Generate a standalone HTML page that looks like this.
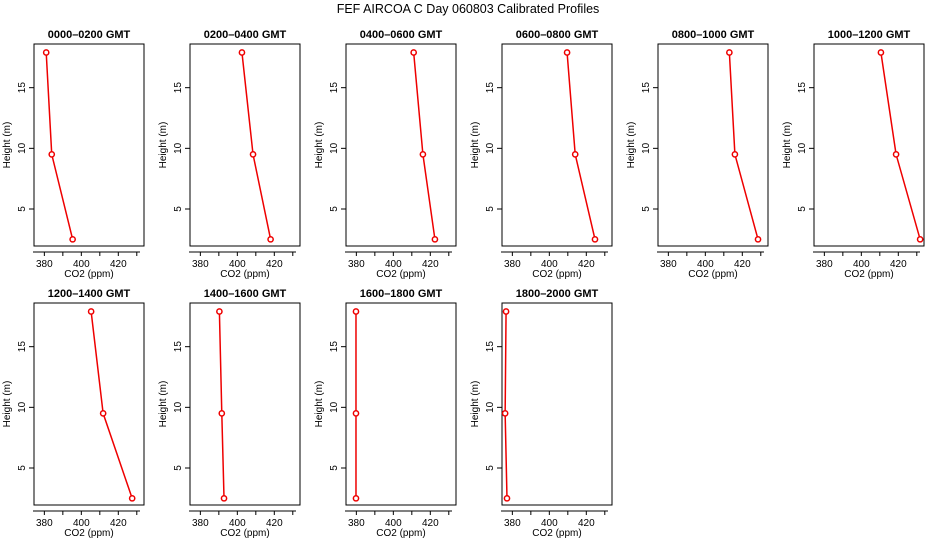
<!DOCTYPE html>
<html><head><meta charset="utf-8"><style>
body{margin:0;background:#fff}
svg text{font-family:"Liberation Sans",sans-serif;fill:#000}
</style></head><body>
<svg id="c" width="936" height="540" xmlns="http://www.w3.org/2000/svg">
<text x="468" y="13" text-anchor="middle" font-size="12.5">FEF AIRCOA C  Day 060803  Calibrated Profiles</text>
</svg>
<script>
const panelTitles=["0000–0200 GMT","0200–0400 GMT","0400–0600 GMT","0600–0800 GMT","0800–1000 GMT","1000–1200 GMT","1200–1400 GMT","1400–1600 GMT","1600–1800 GMT","1800–2000 GMT"];
const heights=[17.9,9.5,2.5];
const co2Values=[
[381,384,395.3],[402.5,408.5,418],[411,416,422.5],[409.6,414,424.7],[413,416,428.5],
[410.6,418.8,431.8],[405.3,411.8,427.5],[390.3,391.6,392.8],[379.8,379.8,379.8],[376.6,376.1,377.1]];
const xTicks=[380,390,400,410,420,430];
const xTickLabels=["380","","400","","420",""];
const yTicks=[5,10,15];
const svg=document.getElementById('c');
const NS='http://www.w3.org/2000/svg';
function mk(t,a,p){const e=document.createElementNS(NS,t);for(const k in a)e.setAttribute(k,a[k]);(p||svg).appendChild(e);return e;}
const XMIN=374.4,XMAX=433.9,YMIN=1.95,YMAX=18.6;
panelTitles.forEach((title,i)=>{
  const col=i%6,row=Math.floor(i/6);
  const L=34+col*156,R=L+110,T=44+row*259,B=T+202;
  const sx=v=>L+(v-XMIN)/(XMAX-XMIN)*(R-L);
  const sy=v=>B-(v-YMIN)/(YMAX-YMIN)*(B-T);
  const g=mk('g',{});
  
  
  const box=mk('rect',{x:L,y:T,width:R-L,height:B-T,fill:'none',stroke:'#000','stroke-width':1},g);
  
  
  const tt=mk('text',{x:(L+R)/2,y:T-6,'text-anchor':'middle','font-size':11,'font-weight':'bold'},g);
  tt.textContent=title;
  
  
  const ax=mk('line',{x1:L-1,x2:R-4,y1:B+6,y2:B+6,stroke:'#000'},g);
  
  
  xTicks.forEach((v,k)=>{
    mk('line',{x1:sx(v),x2:sx(v),y1:B+6,y2:B+10,stroke:'#000'},g);
    if(xTickLabels[k]){const t=mk('text',{x:sx(v),y:B+21,'text-anchor':'middle','font-size':10},g);t.textContent=xTickLabels[k];
    
    }
  });
  const xl=mk('text',{x:(L+R)/2,y:B+31,'text-anchor':'middle','font-size':10},g);
  xl.textContent='CO2 (ppm)';
  
  
  yTicks.forEach(v=>{
    mk('line',{x1:L-5,x2:L,y1:sy(v),y2:sy(v),stroke:'#000'},g);
    const t=mk('text',{x:L-9,y:sy(v),'text-anchor':'middle','font-size':10,transform:`rotate(-90 ${L-9} ${sy(v)})`},g);
    t.textContent=String(v);
    
    
  });
  const yl=mk('text',{x:L-24,y:(T+B)/2,'text-anchor':'middle','font-size':10,transform:`rotate(-90 ${L-24} ${(T+B)/2})`},g);
  yl.textContent='Height (m)';
  
  
  const vals=co2Values[i];
  const pts=vals.map((v,k)=>sx(v)+','+sy(heights[k])).join(' ');
  const pl=mk('polyline',{points:pts,fill:'none',stroke:'#e00','stroke-width':1.5},g);
  
  
  vals.forEach((v,k)=>{
    const c=mk('circle',{cx:sx(v),cy:sy(heights[k]),r:2.6,fill:'#fff',stroke:'#e00','stroke-width':1.5},g);
    
    
  });
});
</script>
</body></html>
